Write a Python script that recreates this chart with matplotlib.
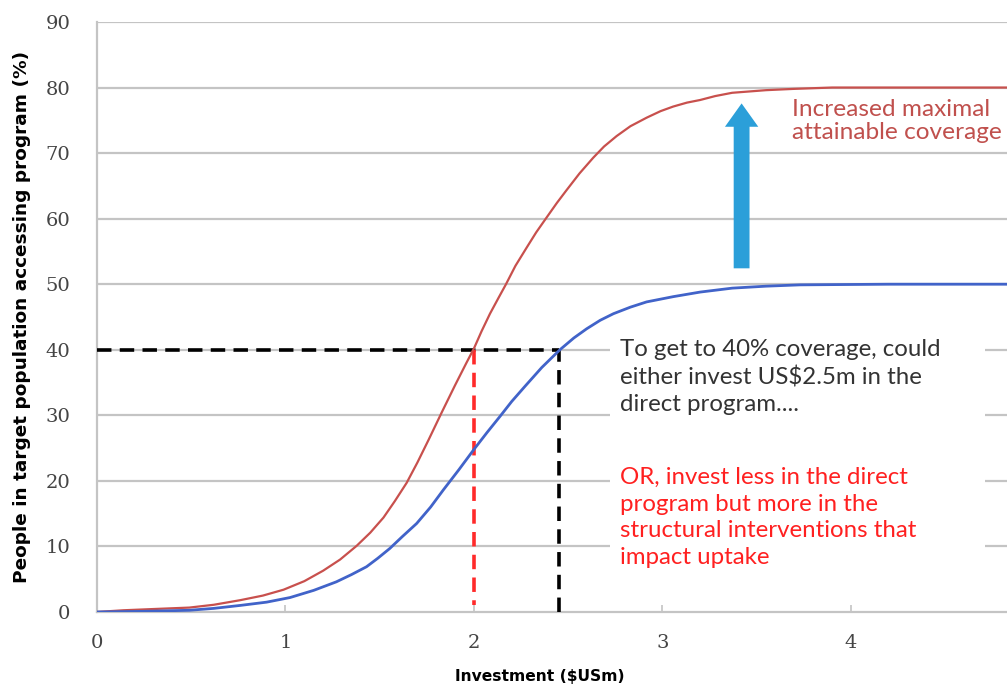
import matplotlib
matplotlib.use("Agg")
import matplotlib.pyplot as plt
from matplotlib.patches import Rectangle, FancyArrowPatch

# investment ($USm) and coverage (%)
red_x = [0.0, 0.14, 0.3, 0.49, 0.62, 0.76, 0.88, 0.99, 1.1, 1.2, 1.29, 1.378, 1.45, 1.52,
         1.58, 1.643, 1.70, 1.76, 1.83, 1.90, 1.96, 2.0, 2.04, 2.085, 2.13, 2.17, 2.22,
         2.28, 2.33, 2.386, 2.44, 2.49, 2.56, 2.633, 2.69, 2.757, 2.83, 2.916, 2.99,
         3.057, 3.13, 3.2, 3.28, 3.37, 3.46, 3.55, 3.7, 3.9, 4.3, 4.83]
red_y = [0.0, 0.26, 0.45, 0.67, 1.1, 1.8, 2.5, 3.4, 4.7, 6.3, 8.0, 10.1, 12.1, 14.4,
         16.9, 19.7, 22.8, 26.3, 30.5, 34.6, 38.0, 40.2, 42.8, 45.5, 47.9, 50.0, 52.8,
         55.6, 57.9, 60.2, 62.4, 64.3, 66.9, 69.3, 71.0, 72.6, 74.1, 75.4, 76.4,
         77.1, 77.7, 78.1, 78.7, 79.2, 79.4, 79.6, 79.8, 80.0, 80.0, 80.0]
blue_x = [0.0, 0.25, 0.49, 0.62, 0.76, 0.9, 1.024, 1.15, 1.27, 1.35, 1.43, 1.49, 1.554,
          1.62, 1.696, 1.77, 1.837, 1.92, 2.0, 2.07, 2.14, 2.2, 2.27, 2.36, 2.456, 2.53,
          2.598, 2.67, 2.74, 2.83, 2.916, 3.057, 3.2, 3.37, 3.55, 3.73, 4.2, 4.83]
blue_y = [0.0, 0.1, 0.26, 0.55, 1.0, 1.5, 2.2, 3.3, 4.6, 5.7, 6.9, 8.2, 9.7,
          11.5, 13.5, 16.0, 18.6, 21.7, 24.8, 27.4, 29.9, 32.1, 34.4, 37.3, 40.0, 41.8,
          43.2, 44.5, 45.5, 46.5, 47.3, 48.1, 48.8, 49.4, 49.7, 49.9, 50.0, 50.0]

target = 40
x_direct = 2.45
x_structural = 2.0

xticks = [0, 1, 2, 3, 4]
yticks = [0, 10, 20, 30, 40, 50, 60, 70, 80, 90]

fig = plt.figure(figsize=(10.07, 6.85), dpi=100)
ax = fig.add_axes([0.0963, 0.1066, 0.9037, 0.8613])
ax.set_xlim(0, 4.828)
ax.set_ylim(0, 90)

grid_c = "#c4c4c4"
for y in yticks[1:]:
    ax.axhline(y, color=grid_c, lw=1.6, zorder=1)
for s in ["top", "right"]:
    ax.spines[s].set_visible(False)
for s in ["left", "bottom"]:
    ax.spines[s].set_color(grid_c)
    ax.spines[s].set_linewidth(1.6)

ax.set_xticks(xticks)
ax.set_yticks(yticks)
ax.tick_params(axis="x", direction="in", length=5, color=grid_c, width=1.2, pad=16)
ax.tick_params(axis="y", length=0, pad=19)
for lab in ax.get_xticklabels() + ax.get_yticklabels():
    lab.set_fontfamily("DejaVu Serif")
    lab.set_fontsize(14)
    lab.set_color("#444444")

# white box behind the notes
ax.add_patch(Rectangle((2.72, 1.8), 1.99, 40.0, facecolor="white", edgecolor="none", zorder=2))

ax.plot(red_x, red_y, color="#c8504d", lw=1.6, zorder=4)
ax.plot(blue_x, blue_y, color="#4163c9", lw=2.0, zorder=4)

ax.plot([0, x_direct], [target, target], color="black", lw=2.6,
        linestyle=(0, (4, 2.3)), zorder=3)
ax.plot([x_direct, x_direct], [0, target], color="black", lw=2.6,
        linestyle=(0, (4, 2.3)), zorder=3)
ax.plot([x_structural, x_structural], [target, 1.0], color="#ff2a2a", lw=2.6,
        linestyle=(0, (4, 2.3)), zorder=3)

arrow = FancyArrowPatch((3.42, 52.0), (3.42, 78.0),
                        arrowstyle="simple,head_width=2.0,head_length=1.4,tail_width=0.95",
                        mutation_scale=12, color="#2b9fd9", lw=0, zorder=5)
ax.add_patch(arrow)

ax.text(3.69, 74.9, "Increased maximal\nattainable coverage", color="#c0504d",
        fontsize=17.6, family="Lato", va="center", ha="left", linespacing=1.12, zorder=6)

ax.text(2.775, 41.6, "To get to 40% coverage, could\neither invest US$2.5m in the\ndirect program....",
        color="#333333", fontsize=17.3, family="Lato", va="top", ha="left",
        linespacing=1.33, zorder=6)
ax.text(2.775, 22.1, "OR, invest less in the direct\nprogram but more in the\nstructural interventions that\nimpact uptake",
        color="#ff2020", fontsize=17.3, family="Lato", va="top", ha="left",
        linespacing=1.33, zorder=6)

fig.text(0.022, 0.537, "People in target population accessing program (%)", rotation=90,
         fontsize=13.3, fontweight="bold", family="DejaVu Sans", va="center", ha="center")
fig.text(0.536, 0.013, "Investment ($USm)", fontsize=11.2, fontweight="bold",
         family="DejaVu Sans", va="center", ha="center")

fig.savefig("out.png", dpi=100, facecolor="white")
